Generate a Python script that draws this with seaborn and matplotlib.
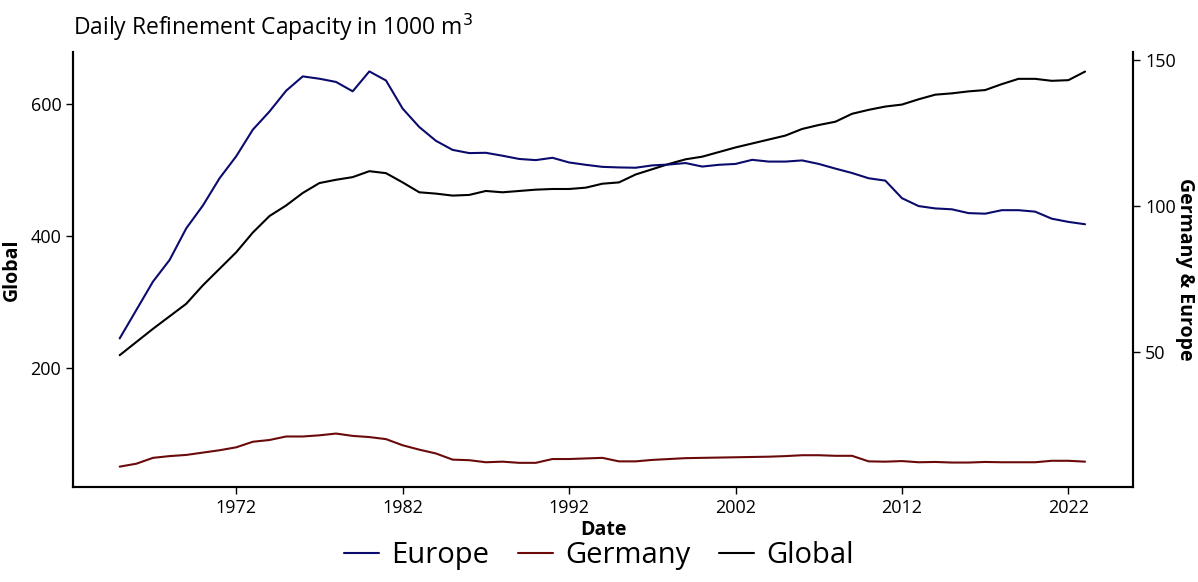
import numpy as np
import pandas as pd
import seaborn as sns
import matplotlib.pyplot as plt
from matplotlib.lines import Line2D

years = list(range(1965, 2024))

global_cap = [219, 239, 259, 278, 297, 325, 350, 375, 405, 430, 446, 465, 480, 485, 489, 498,
              495, 481, 466, 464, 461, 462, 468, 466, 468, 470, 471, 471, 473, 479, 481,
              493, 501, 509, 516, 520, 527, 534, 540, 546, 552, 562, 568, 573, 585, 591,
              596, 599, 607, 614, 616, 619, 621, 630, 638, 638, 635, 636, 649]

europe_cap = [54.8, 64.5, 74.2, 81.6, 92.4, 100.2, 109.5, 117.0, 126.1, 132.3, 139.4, 144.3,
              143.5, 142.4, 139.2, 146.0, 142.9, 133.3, 127.0, 122.3, 119.2, 118.1, 118.2,
              117.2, 116.1, 115.7, 116.5, 114.9, 114.1, 113.4, 113.2, 113.1, 113.9, 114.2,
              114.7, 113.5, 114.1, 114.4, 115.8, 115.2, 115.2, 115.6, 114.4, 112.8, 111.3,
              109.5, 108.7, 102.7, 100.0, 99.2, 98.9, 97.6, 97.4, 98.6, 98.6, 98.1, 95.7,
              94.6, 93.8]

germany_cap = [11.0, 12.0, 14.0, 14.6, 15.0, 15.8, 16.6, 17.6, 19.5, 20.1, 21.3, 21.3, 21.7,
               22.3, 21.5, 21.1, 20.4, 18.3, 16.8, 15.5, 13.4, 13.2, 12.5, 12.7, 12.3, 12.3,
               13.6, 13.6, 13.8, 14.0, 12.8, 12.8, 13.3, 13.6, 13.9, 14.0, 14.1, 14.2, 14.3,
               14.4, 14.6, 14.9, 14.9, 14.7, 14.7, 12.8, 12.7, 12.9, 12.5, 12.6, 12.4, 12.4,
               12.6, 12.5, 12.5, 12.5, 13.0, 13.0, 12.7]

c_europe = '#0b0b6e'
c_germany = '#6b0a0a'
c_global = '#000000'

df = pd.DataFrame({'Date': years, 'Global': global_cap,
                   'Europe': europe_cap, 'Germany': germany_cap})

sns.set_theme(style="white")
plt.rcParams['font.family'] = ['Open Sans', 'DejaVu Sans']
plt.rcParams['text.color'] = 'black'
plt.rcParams['axes.labelcolor'] = 'black'

fig = plt.figure(figsize=(11.98, 5.82), dpi=100)
ax = fig.add_axes([0.061, 0.163, 0.885, 0.748])
ax2 = ax.twinx()

sns.lineplot(data=df, x='Date', y='Global', color=c_global, lw=1.5, ax=ax)
sns.lineplot(data=df, x='Date', y='Europe', color=c_europe, lw=1.5, ax=ax2)
sns.lineplot(data=df, x='Date', y='Germany', color=c_germany, lw=1.5, ax=ax2)

ax.set_xlim(1962.2, 2025.9)
ax.set_ylim(19, 679)
ax2.set_ylim(4, 152.7)
ax.set_xticks([1972, 1982, 1992, 2002, 2012, 2022])
ax.set_yticks([200, 400, 600])
ax2.set_yticks([50, 100, 150])

for a in (ax, ax2):
    a.spines['top'].set_visible(False)
    for s in ('left', 'bottom', 'right'):
        a.spines[s].set_color('black')
        a.spines[s].set_linewidth(1.5)
    a.tick_params(length=5, width=1, color='black', labelsize=13, labelcolor='black')
ax.tick_params(left=True, bottom=True)
ax2.tick_params(right=True)

ax.set_xlabel('Date', fontsize=14, fontweight='bold', labelpad=2)
ax.set_ylabel('Global', fontsize=14, fontweight='bold', labelpad=6)
ax2.set_ylabel('Germany & Europe', fontsize=14, fontweight='bold', rotation=270, labelpad=14)
ax.set_title('Daily Refinement Capacity in 1000 m$^3$', loc='left', fontsize=16.5, pad=12)

handles = [Line2D([], [], color=c_europe, lw=1.5),
           Line2D([], [], color=c_germany, lw=1.5),
           Line2D([], [], color=c_global, lw=1.5)]
fig.legend(handles, ['Europe', 'Germany', 'Global'], loc='lower center',
           bbox_to_anchor=(0.5, -0.025), ncol=3, frameon=False, fontsize=21,
           handlelength=1.2, columnspacing=1.0, handletextpad=0.4)

plt.savefig('out.png', dpi=100)
